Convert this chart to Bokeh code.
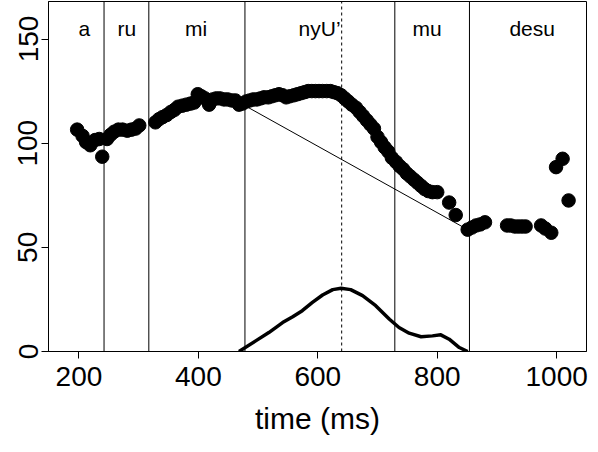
from bokeh.plotting import figure
from bokeh.models import FixedTicker
from bokeh.core.properties import value
from bokeh.embed import file_html
from bokeh.resources import INLINE

# pitch track (time in ms, F0-like values)
pitch_t = [197, 206, 212, 219, 227, 234, 239,
           247, 253, 259, 266, 273, 281, 288, 295, 301,
           328, 334, 340, 347, 354, 360, 366, 373, 380, 387, 393, 399, 405, 411,
           418, 424, 430, 436, 443, 449, 456, 462, 468, 474,
           480, 486, 492, 498, 504, 510, 517, 523, 529, 535, 541, 547, 553, 560,
           566, 572, 578, 584, 590, 596, 602, 608, 615, 621, 627, 633, 639, 645,
           651, 657, 664, 670, 676, 682, 688, 694, 700, 706, 712, 718, 724,
           731, 737, 743, 749, 755, 761, 767, 773, 779, 785, 792, 800, 820, 831,
           851, 858, 865, 872, 880, 917, 923, 930, 936, 942, 948, 974, 981, 991,
           999, 1010, 1020]
pitch_v = [106.5, 103.5, 100.5, 99, 101.5, 102, 93.5,
           102, 104, 105.5, 106.5, 106.5, 106, 106.5, 107, 108.5,
           110, 111.5, 112.5, 113.5, 115, 116, 117.5, 118, 118.5, 119, 119.5, 123.5, 122.5, 121.5,
           118.5, 121, 121.5, 121.5, 121, 121, 120.5, 120.5, 118.5, 119,
           120, 120.5, 121, 121, 121.5, 122, 122, 122.5, 123, 123.5, 123, 122, 122.5, 123,
           123.5, 124, 124.5, 125, 125, 125, 125, 125, 125, 125, 124.5, 124, 123, 121.5,
           120, 118.5, 117, 115, 113, 111, 109, 107, 103, 100.5, 98, 96, 93,
           91, 89, 87.5, 85.5, 84, 82.5, 81, 79.5, 78, 77, 76.5, 76.5, 71.5, 65.5,
           58.5, 59.5, 60.5, 61, 62, 60.5, 60.5, 60, 60, 60, 60, 60.5, 59, 57,
           88.5, 92.5, 72.5]

# straight reference line
ref_t = [478, 851]
ref_v = [118, 58.5]

# lower curve
curve_t = [468, 496, 518, 541, 558, 574, 591, 608, 625, 639, 655, 675, 697,
           720, 736, 753, 773, 792, 806, 820, 837, 851]
curve_v = [0, 5.1, 9.1, 13.9, 16.7, 19.6, 23.6, 27.1, 29.7, 30.4, 29.7, 26.8, 22,
           15.5, 11.5, 8.8, 7.1, 7.5, 8, 5.9, 1.9, 0]

# segment boundaries and labels
bounds = [242, 317, 478, 729, 854]
peak_t = [640]
seg_labels = ["a", "ru", "mi", "nyU\u2019", "mu", "desu"]
seg_label_t = [209, 280, 396, 603, 783, 959]

x_ticks = [200, 400, 600, 800, 1000]
y_ticks = [0, 50, 100, 150]

X_RANGE = (149, 1050)
Y_RANGE = (0, 168)

FONT = "Liberation Sans"

p = figure(width=590, height=444, x_range=X_RANGE, y_range=Y_RANGE,
           output_backend="svg", toolbar_location=None,
           min_border_left=48, min_border_right=4, min_border_top=1,
           min_border_bottom=93)
p.xgrid.visible = False
p.ygrid.visible = False
p.outline_line_color = "black"
p.outline_line_width = 1
p.background_fill_color = "white"
p.border_fill_color = "white"

for ax in (p.xaxis[0], p.yaxis[0]):
    ax.axis_line_color = "black"
    ax.major_tick_line_color = "black"
    ax.major_tick_out = 7
    ax.major_tick_in = 0
    ax.minor_tick_line_color = None
    ax.major_label_text_font = FONT
    ax.major_label_text_color = "black"
    ax.major_label_text_font_size = "28px"

p.xaxis.ticker = FixedTicker(ticks=x_ticks)
p.yaxis.ticker = FixedTicker(ticks=y_ticks)
p.yaxis.major_label_orientation = "vertical"
p.xaxis.major_label_standoff = 8
p.yaxis.major_label_standoff = 4
p.xaxis.axis_label = "time (ms)"
p.xaxis.axis_label_text_font = FONT
p.xaxis.axis_label_text_font_size = "30px"
p.xaxis.axis_label_text_font_style = "normal"
p.xaxis.axis_label_text_color = "black"
p.xaxis.axis_label_standoff = 13

ytop = Y_RANGE[1]
p.segment(x0=bounds, x1=bounds, y0=[0] * len(bounds), y1=[ytop] * len(bounds),
          line_color="black", line_width=1)
p.segment(x0=peak_t, x1=peak_t, y0=[0], y1=[ytop], line_color="black",
          line_width=1, line_dash="3 3")

p.line(ref_t, ref_v, line_color="black", line_width=1)
p.line(curve_t, curve_v, line_color="black", line_width=3.5, line_join="round")
p.scatter(pitch_t, pitch_v, size=13.5, fill_color="black", line_color="black")

p.text(x=seg_label_t, y=[155] * len(seg_labels), text=seg_labels,
       text_font=value(FONT), text_font_size="21px", text_align="center",
       text_baseline="alphabetic", text_color="black")

open("out.html", "w").write(file_html(p, INLINE))
